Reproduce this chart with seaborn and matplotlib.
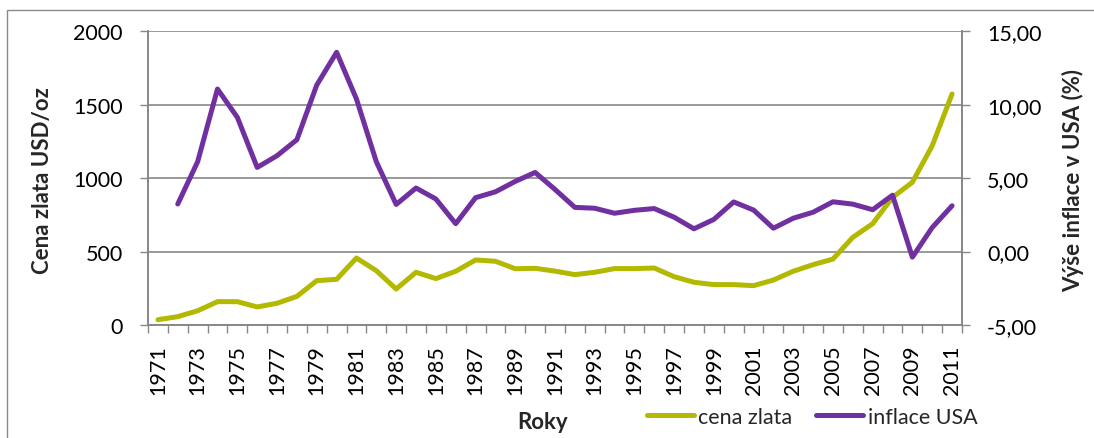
import matplotlib
matplotlib.use("Agg")
import matplotlib.pyplot as plt
import seaborn as sns
import pandas as pd
import numpy as np
from matplotlib.patches import Rectangle
from matplotlib.ticker import FixedLocator, FuncFormatter

# ---- data ----
gold_years = list(range(1971, 2012))
gold_price = [36, 57, 97, 159, 159, 123, 148, 195, 302, 311,
              456, 370, 245, 359, 316, 366, 443, 434, 383, 386,
              367, 343, 359, 384, 384, 388, 329, 291, 275, 275,
              268, 306, 366, 411, 449, 597, 690, 869, 972, 1221,
              1573]
infl_years = list(range(1972, 2012))
inflation = [3.24, 6.12, 11.07, 9.14, 5.73, 6.53, 7.62, 11.34, 13.57,
             10.39, 6.12, 3.21, 4.33, 3.58, 1.90, 3.67, 4.07, 4.78, 5.39,
             4.23, 3.01, 2.95, 2.61, 2.81, 2.93, 2.34, 1.55, 2.19, 3.38,
             2.83, 1.59, 2.27, 2.68, 3.39, 3.23, 2.85, 3.84, -0.38, 1.64, 3.12]
left_ticks = [0, 500, 1000, 1500, 2000]
right_ticks = [-5, 0, 5, 10, 15]
year_labels = list(range(1971, 2012, 2))

gold_df = pd.DataFrame({"rok": gold_years, "cena": gold_price})
infl_df = pd.DataFrame({"rok": infl_years, "inflace": inflation})

GREEN = "#B3B800"
PURPLE = "#7030A0"
GRID = "#878787"
FS = 15.5
FSB = 16

sns.set_theme(style="white")
plt.rcParams['font.family'] = ['Lato', 'DejaVu Sans']

W, H = 1094, 439
fig = plt.figure(figsize=(W / 100, H / 100), dpi=100)
x0, x1, y0, y1 = 148, 962, 32.3, 326
ax = fig.add_axes([x0 / W, 1 - y1 / H, (x1 - x0) / W, (y1 - y0) / H])
ax2 = ax.twinx()

# chart-area border
fig.add_artist(Rectangle((7 / W, -0.1), 1.2, 1.1 - 11 / H, transform=fig.transFigure,
                         fill=False, edgecolor="#8a8a8a", linewidth=1.0))

sns.lineplot(data=gold_df, x="rok", y="cena", ax=ax, color=GREEN, linewidth=3.6,
             label="cena zlata", legend=False)
sns.lineplot(data=infl_df, x="rok", y="inflace", ax=ax2, color=PURPLE, linewidth=3.6,
             label="inflace USA", legend=False)
for l in ax.lines + ax2.lines:
    l.set_solid_joinstyle("round")
    l.set_solid_capstyle("round")

ax.set_xlim(1970.5, 2011.5)
ax.set_ylim(0, 2000)
ax2.set_ylim(-5, 15)
ax.set_yticks(left_ticks)
ax2.set_yticks(right_ticks)
ax2.yaxis.set_major_formatter(FuncFormatter(lambda v, p: f"{v:.2f}".replace(".", ",")))

ax.set_xticks(year_labels)
ax.set_xticklabels([str(y) for y in year_labels], rotation=90, fontsize=FS)
ax.xaxis.set_minor_locator(FixedLocator(np.arange(1970.5, 2012, 1.0)))
ax.tick_params(axis="x", which="major", length=0, pad=14, labelsize=FS, colors="black")
ax.tick_params(axis="x", which="minor", length=6, width=1.0, color=GRID, bottom=True)
ax.tick_params(axis="y", which="major", length=6, width=1.0, color=GRID, left=True,
               labelsize=FS, labelcolor="black", pad=12)
ax2.tick_params(axis="y", which="major", length=6, width=1.0, color=GRID, right=True,
                labelsize=FS, labelcolor="black", pad=12)

ax.grid(False)
ax2.grid(False)
ax.yaxis.grid(True, color=GRID, linewidth=1.2)
ax.set_axisbelow(True)
for a in (ax, ax2):
    a.spines["top"].set_visible(False)
    for s in ("left", "right", "bottom"):
        a.spines[s].set_color(GRID)
        a.spines[s].set_linewidth(1.2)
    a.set_xlabel("")
    a.set_ylabel("")

fig.text(43 / W, 1 - 180.5 / H, "Cena zlata USD/oz", rotation=90, ha="center", va="center",
         fontsize=FSB, fontweight="bold")
fig.text(1073 / W, 1 - 180 / H, "Výše inflace v USA (%)", rotation=90, ha="center", va="center",
         fontsize=FSB, fontweight="bold")
fig.text(543 / W, 1 - 423 / H, "Roky", ha="center", va="center", fontsize=FSB, fontweight="bold")

handles = ax.lines[:1] + ax2.lines[:1]
fig.legend(handles, ["cena zlata", "inflace USA"], loc="center",
           bbox_to_anchor=(812 / W, 1 - 418 / H), ncol=2, frameon=False, fontsize=FS,
           handlelength=2.2, handletextpad=0.2, columnspacing=1.1)

fig.savefig("out.png", dpi=100)
